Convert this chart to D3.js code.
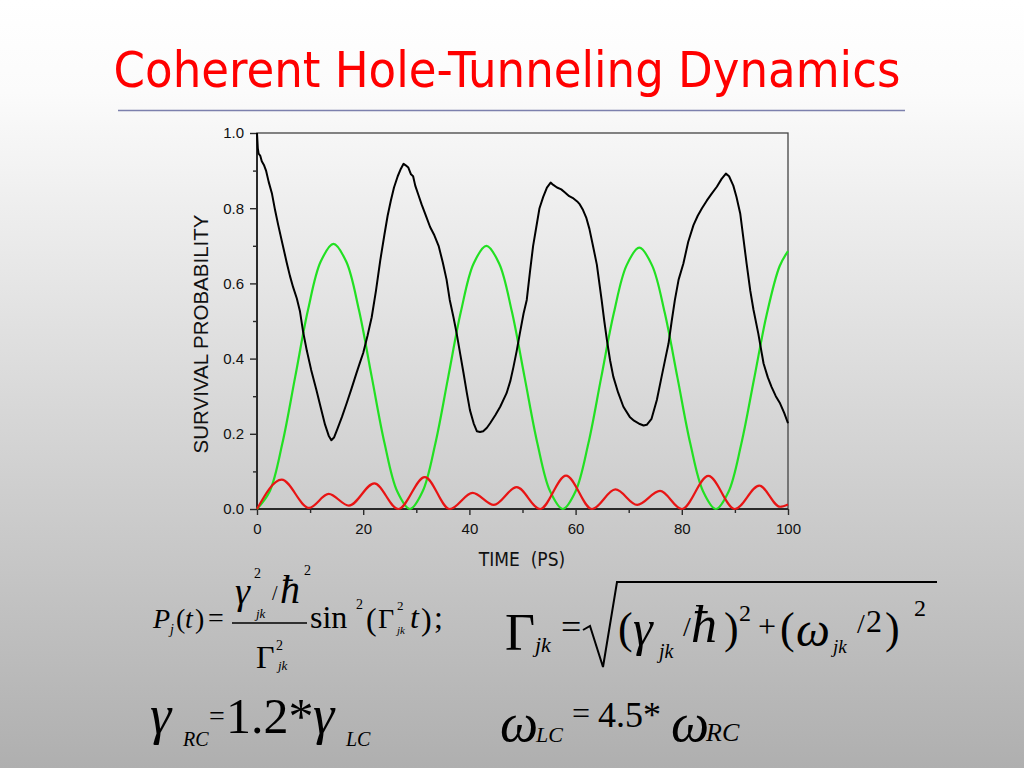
<!DOCTYPE html>
<html><head><meta charset="utf-8">
<script src="https://cdn.jsdelivr.net/npm/d3@7"></script>
<style>html,body{margin:0;padding:0;background:#fff;} svg{display:block}</style>
</head><body>
<svg id="c" width="1024" height="768"></svg>
<script>
// ---------- data ----------
const titleText = "Coherent Hole-Tunneling Dynamics";
const xLabel = "TIME  (PS)";
const yLabel = "SURVIVAL PROBABILITY";
const xTickValues = [0, 20, 40, 60, 80, 100];
const xMinorTicks = [10, 30, 50, 70, 90];
const yTickValues = [0, 0.2, 0.4, 0.6, 0.8, 1.0];
const yMinorTicks = [0.1, 0.3, 0.5, 0.7, 0.9];

// black: survival probability (noisy measured curve)
const blackTime = [0,0.15,0.3,0.6,0.9,1.3,1.7,2.2,2.8,3.4,4.0,4.8,5.6,6.2,6.8,7.5,8.1,8.7,9.4,10.2,11.2,12.0,12.8,13.5,14.0,14.5,15.2,16.0,16.9,17.8,18.7,19.4,20.0,20.8,21.6,22.4,23.2,24.0,24.6,25.2,25.8,26.5,27.1,27.6,28.0,28.5,29.0,29.4,29.8,30.4,31.0,31.8,32.6,33.4,34.2,35.0,35.7,36.3,37.0,37.6,38.3,38.9,39.5,40.1,40.8,41.4,42.0,42.6,43.3,43.9,44.9,45.8,47.0,47.7,48.3,48.9,49.5,50.2,50.8,51.4,52.0,52.6,53.2,53.9,54.6,55.3,55.8,56.5,57.3,58.0,58.8,59.6,60.3,60.8,61.4,62.0,62.6,63.2,64.0,64.9,65.4,65.9,66.5,67.1,68.0,69.0,70.2,71.0,72.1,72.8,73.4,74.3,75.3,76.2,76.9,77.5,78.1,78.7,79.4,80.3,81.2,82.2,83.0,83.8,84.7,85.6,86.6,87.5,88.3,88.9,89.7,90.3,91.0,91.6,92.2,92.9,93.5,94.4,95.4,96.2,96.9,97.7,98.5,99.3,100];
const blackProb = [1.0,0.96,0.945,0.94,0.925,0.915,0.9,0.87,0.84,0.795,0.755,0.705,0.655,0.62,0.59,0.56,0.525,0.47,0.42,0.37,0.316,0.27,0.225,0.195,0.183,0.19,0.215,0.245,0.282,0.32,0.36,0.39,0.415,0.46,0.51,0.58,0.66,0.73,0.78,0.82,0.855,0.885,0.905,0.918,0.914,0.908,0.89,0.885,0.86,0.835,0.81,0.78,0.75,0.728,0.7,0.655,0.61,0.556,0.51,0.467,0.41,0.361,0.31,0.263,0.228,0.207,0.205,0.207,0.216,0.228,0.25,0.272,0.308,0.34,0.378,0.42,0.467,0.52,0.556,0.63,0.7,0.75,0.8,0.83,0.855,0.868,0.862,0.855,0.85,0.842,0.832,0.826,0.818,0.81,0.795,0.775,0.745,0.705,0.65,0.556,0.5,0.449,0.395,0.352,0.31,0.272,0.245,0.235,0.226,0.222,0.224,0.24,0.29,0.352,0.4,0.44,0.5,0.556,0.61,0.653,0.71,0.755,0.78,0.8,0.82,0.838,0.857,0.878,0.892,0.885,0.86,0.83,0.786,0.72,0.653,0.58,0.53,0.467,0.387,0.35,0.325,0.3,0.281,0.255,0.228];

// green: transfer probability
const greenTime = [0,2.4,4.8,7.2,9.6,12.0,14.4,16.8,19.2,21.6,24.0,26.4,28.8,31.2,33.6,36.0,38.4,40.8,43.2,45.6,48.0,50.4,52.8,55.2,57.6,60.0,62.4,64.8,67.2,69.6,72.0,74.4,76.8,79.2,81.6,84.0,86.4,88.8,91.2,93.6,96.0,98.4,100];
const greenProb = [0,0.047,0.176,0.352,0.529,0.658,0.705,0.658,0.529,0.352,0.176,0.047,0,0.047,0.175,0.35,0.525,0.653,0.700,0.653,0.525,0.35,0.175,0.047,0,0.047,0.174,0.348,0.521,0.648,0.695,0.648,0.521,0.348,0.174,0.047,0,0.046,0.173,0.345,0.518,0.645,0.686];

// red: small-amplitude channel
const redTime = [0,4.65,9.8,13.5,17.3,22.1,26.6,31.6,36.3,40.6,44.6,48.9,53.3,58.2,63.1,67.5,71.6,75.9,80.0,85.0,90.0,94.6,98.5,100];
const redProb = [0,0.078,0.003,0.040,0.009,0.068,0.0,0.085,0.0,0.043,0.011,0.058,0.0,0.089,0.0,0.052,0.011,0.048,0.0,0.088,0.0,0.062,0.006,0.012];

// ---------- drawing ----------
const svg = d3.select("#c");
const defs = svg.append("defs");
const grad = defs.append("linearGradient").attr("id","bg").attr("x1",0).attr("y1",0).attr("x2",0).attr("y2",1);
grad.append("stop").attr("offset","0%").attr("stop-color","#ffffff");
grad.append("stop").attr("offset","12%").attr("stop-color","#fbfbfb");
grad.append("stop").attr("offset","100%").attr("stop-color","#afafaf");
svg.append("rect").attr("width",1024).attr("height",768).attr("fill","url(#bg)");

// title
const title = svg.append("text").attr("x",507).attr("y",87).attr("text-anchor","middle")
  .attr("font-family","'DejaVu Sans Condensed','DejaVu Sans',sans-serif").attr("font-size",50)
  .attr("fill","#ff0000").text(titleText);
const tw = title.node().getComputedTextLength();
title.attr("font-size", 50*787/tw);
svg.append("line").attr("x1",118).attr("x2",905).attr("y1",110.5).attr("y2",110.5)
  .attr("stroke","#7c80ad").attr("stroke-width",1.6);

// scales
const x = d3.scaleLinear().domain([0,100]).range([257,788]);
const y = d3.scaleLinear().domain([0,1]).range([509,133]);

const axisColor = "#2a2a2a";
// frame
svg.append("rect").attr("x",x(0)).attr("y",y(1)).attr("width",x(100)-x(0)).attr("height",y(0)-y(1))
  .attr("fill","none").attr("stroke","#444").attr("stroke-width",1.3);

function styleAxis(g){
  g.select(".domain").remove();
  g.selectAll("line").attr("stroke",axisColor).attr("stroke-width",1.4);
  g.selectAll("text").attr("font-family","'Liberation Sans',Arial,sans-serif").attr("font-size",15).attr("fill","#111");
}
svg.append("g").attr("transform",`translate(0,${y(0)})`)
  .call(d3.axisBottom(x).tickValues(xMinorTicks).tickSize(4).tickFormat(""))
  .call(styleAxis);
svg.append("g").attr("transform",`translate(0,${y(0)})`)
  .call(d3.axisBottom(x).tickValues(xTickValues).tickSize(6).tickPadding(8).tickFormat(d3.format("d")))
  .call(styleAxis);
svg.append("g").attr("transform",`translate(${x(0)},0)`)
  .call(d3.axisLeft(y).tickValues(yMinorTicks).tickSize(4).tickFormat(""))
  .call(styleAxis);
svg.append("g").attr("transform",`translate(${x(0)},0)`)
  .call(d3.axisLeft(y).tickValues(yTickValues).tickSize(7).tickPadding(6).tickFormat(d3.format(".1f")))
  .call(styleAxis);
// axis lines
svg.append("line").attr("x1",x(0)).attr("x2",x(100)).attr("y1",y(0)).attr("y2",y(0)).attr("stroke",axisColor).attr("stroke-width",2);
svg.append("line").attr("x1",x(0)).attr("x2",x(0)).attr("y1",y(0)).attr("y2",y(1)).attr("stroke",axisColor).attr("stroke-width",2);

// axis titles
svg.append("text").attr("x",522).attr("y",566).attr("text-anchor","middle")
  .attr("font-family","'DejaVu Sans Condensed','DejaVu Sans',sans-serif").attr("font-size",19)
  .attr("fill","#111").style("white-space","pre").text(xLabel);
svg.append("text").attr("transform","translate(208,334) rotate(-90)").attr("text-anchor","middle")
  .attr("font-family","'Liberation Sans',Arial,sans-serif").attr("font-size",20.5)
  .attr("fill","#111").text(yLabel);

// curves
function series(t,p){ return t.map((d,i)=>[d,p[i]]); }
const lineLin = d3.line().x(d=>x(d[0])).y(d=>y(d[1]));
const lineSmooth = d3.line().x(d=>x(d[0])).y(d=>y(d[1])).curve(d3.curveCatmullRom);
const lineMono = d3.line().x(d=>x(d[0])).y(d=>y(d[1])).curve(d3.curveMonotoneX);

svg.append("path").datum(series(greenTime,greenProb)).attr("d",lineSmooth)
  .attr("fill","none").attr("stroke","#22e022").attr("stroke-width",2.2);
svg.append("path").datum(series(redTime,redProb)).attr("d",lineMono)
  .attr("fill","none").attr("stroke","#e81414").attr("stroke-width",2.2);
svg.append("path").datum(series(blackTime,blackProb)).attr("d",lineLin)
  .attr("fill","none").attr("stroke","#000").attr("stroke-width",2).attr("stroke-linejoin","round");

// ---------- formulas ----------
const serif = "'Liberation Serif','Times New Roman',serif";
function t(xx,yy,s,size,italic){
  return svg.append("text").attr("x",xx).attr("y",yy).attr("font-family",serif)
    .attr("font-size",size).attr("font-style",italic?"italic":"normal").attr("fill","#000").text(s);
}
// formula 1
t(153,628,"P",28,true);
t(170,634,"j",14,true);
t(176,628,"(",28,false); t(185,628,"t",28,true); t(195,628,")",28,false);
t(208,627,"=",28,false);
svg.append("line").attr("x1",232).attr("x2",307).attr("y1",623).attr("y2",623).attr("stroke","#000").attr("stroke-width",1.5);
t(235,604,"γ",38,true);
t(254,578,"2",14,false);
t(256,618,"jk",13,true);
t(272,600,"/",20,false);
t(280,603,"ħ",40,true);
t(304,575,"2",14,false);
t(256,668,"Γ",32,false);
t(276,650,"2",14,false);
t(278,670,"jk",13,true);
t(310,628,"sin",32,false);
t(356,609,"2",14,false);
t(366,630,"(",32,false);
t(378,628,"Γ",28,false);
t(397,610,"2",13,false);
t(397,634,"jk",11,true);
t(410,628,"t",32,true);
t(421,630,")",32,false);
t(434,628,";",32,false);

// formula 2
t(505,650,"Γ",52,false);
t(535,652,"jk",22,true);
t(561,639,"=",36,false);
svg.append("path").attr("d","M583,630 L590,626 L603,667 L617,582 L937,582")
  .attr("fill","none").attr("stroke","#000").attr("stroke-width",2);
t(618,643,"(",44,false);
t(633,645,"γ",50,true);
t(659,658,"jk",20,true);
t(683,636,"/",28,false);
t(691,642,"ħ",52,true);
t(724,643,")",44,false);
t(739,621,"2",24,false);
t(758,637,"+",32,false);
t(780,643,"(",44,false);
t(796,646,"ω",48,true);
t(833,653,"jk",19,true);
t(857,633,"/",28,false);
t(866,632,"2",32,false);
t(885,643,")",44,false);
t(914,616,"2",24,false);

// formula 3
t(150,733,"γ",54,true);
t(183,746,"RC",20,true);
t(209,725,"=",28,false);
t(226,733,"1.2*",50,false);
t(313,733,"γ",54,true);
t(346,746,"LC",20,true);

t(500,741,"ω",54,true);
t(536,742,"LC",22,true);
t(572,724,"=",32,false);
t(598,727,"4.5*",36,false);
t(671,741,"ω",54,true);
t(706,741,"RC",26,true);
</script>
</body></html>
